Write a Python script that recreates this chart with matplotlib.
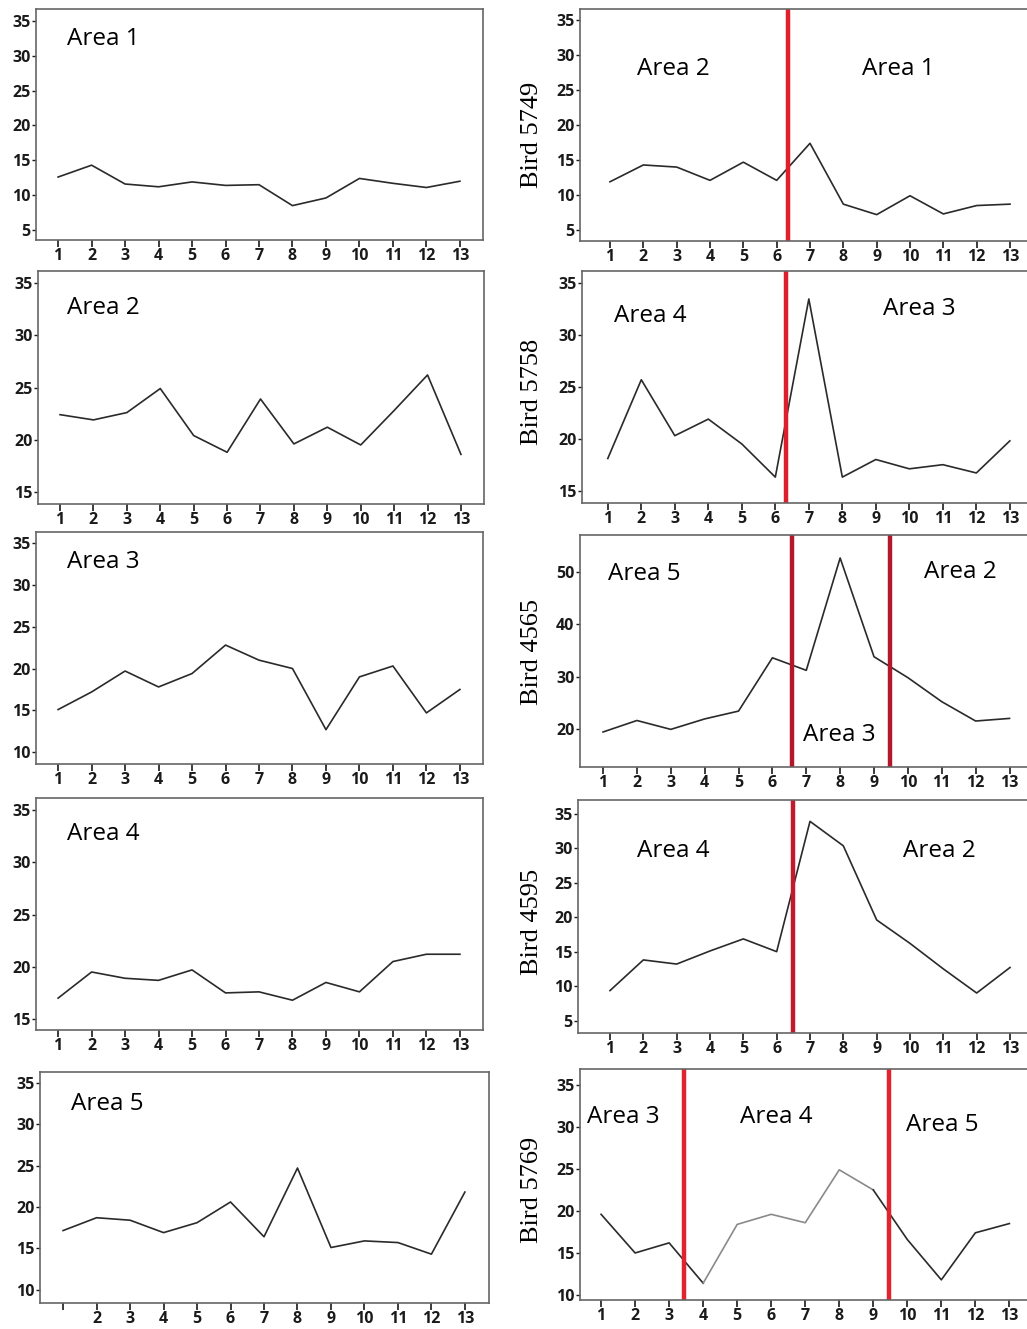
import numpy as np
import matplotlib
matplotlib.use("Agg")
import matplotlib.pyplot as plt

W, H = 1027, 1329

sessions = np.arange(1, 14)
x_labels = [str(s) for s in sessions]
x_labels_area5 = [""] + x_labels[1:]

# mean values per session, single-area birds
area1 = [12.6, 14.3, 11.6, 11.2, 11.9, 11.4, 11.5, 8.5, 9.6, 12.4, 11.7, 11.1, 12.0]
area2 = [22.4, 21.9, 22.6, 24.9, 20.4, 18.8, 23.9, 19.6, 21.2, 19.5, 22.8, 26.2, 18.6]
area3 = [15.1, 17.2, 19.7, 17.8, 19.4, 22.8, 21.0, 20.0, 12.7, 19.0, 20.3, 14.7, 17.5]
area4 = [17.0, 19.5, 18.9, 18.7, 19.7, 17.5, 17.6, 16.8, 18.5, 17.6, 20.5, 21.2, 21.2]
area5 = [17.15, 18.7, 18.4, 16.9, 18.1, 20.6, 16.4, 24.7, 15.1, 15.9, 15.7, 14.3, 21.8]

# birds that moved between areas
bird_5749 = [11.9, 14.3, 14.0, 12.1, 14.7, 12.1, 17.4, 8.7, 7.2, 9.9, 7.3, 8.5, 8.7]
bird_5758 = [18.1, 25.7, 20.3, 21.9, 19.5, 16.3, 33.5, 16.3, 18.0, 17.1, 17.5, 16.7, 19.8]
bird_4565 = [19.4, 21.6, 19.9, 21.9, 23.4, 33.6, 31.2, 52.7, 33.8, 29.8, 25.2, 21.5, 22.0]
bird_4595 = [9.35, 13.8, 13.2, 15.1, 16.85, 15.0, 33.9, 30.35, 19.6, 16.2, 12.5, 9.0, 12.7]
bird_5769 = [19.6, 15.0, 16.2, 11.4, 18.4, 19.6, 18.6, 24.9, 22.5, 16.6, 11.8, 17.4, 18.5]

# session where the bird switched area
moves_5749 = [6.35]
moves_5758 = [6.33]
moves_4565 = [6.57, 9.47]
moves_4595 = [6.48]
moves_5769 = [3.43, 9.47]

tick_font = dict(family="Open Sans", fontsize=11.5, fontweight="bold")
area_font = dict(family="Open Sans", fontsize=17.5)
bird_font = dict(family="Liberation Serif", fontsize=19)


def box(l, t, r, b):
    return [l / W, 1 - b / H, (r - l) / W, (b - t) / H]


def fx(x, y):
    return x / W, 1 - y / H


def panel(fig, rect, values, xlim, ylim, yticks, xlabels=x_labels):
    ax = fig.add_axes(rect)
    ax.plot(sessions, values, color="#2a2a2a", lw=1.2)
    ax.set_xlim(*xlim)
    ax.set_ylim(*ylim)
    ax.set_xticks(sessions)
    ax.set_xticklabels(xlabels, **tick_font)
    ax.set_yticks(yticks)
    ax.set_yticklabels([str(t) for t in yticks], **tick_font)
    ax.tick_params(axis="x", length=5, width=1.2, pad=1, colors="#1a1a1a")
    ax.tick_params(axis="y", length=3, width=1.0, pad=1, colors="#1a1a1a")
    for s in ax.spines.values():
        s.set_color("#666")
        s.set_linewidth(1.2)
    return ax


fig = plt.figure(figsize=(W / 100, H / 100), dpi=100)

# left column: one area per panel
panel(fig, box(36, 9, 483, 240), area1, (0.34, 13.69), (3.57, 36.7), [5, 10, 15, 20, 25, 30, 35])
panel(fig, box(38, 271, 484, 504), area2, (0.34, 13.69), (13.85, 36.15), [15, 20, 25, 30, 35])
panel(fig, box(36, 532, 483, 764), area3, (0.34, 13.69), (8.6, 36.3), [10, 15, 20, 25, 30, 35])
panel(fig, box(36, 798, 483, 1030), area4, (0.34, 13.69), (13.95, 36.15), [15, 20, 25, 30, 35])
panel(fig, box(40, 1072, 489, 1303), area5, (0.31, 13.72), (8.4, 36.3), [10, 15, 20, 25, 30, 35],
      xlabels=x_labels_area5)

for name, (x, y) in [("Area 1", (67, 45)), ("Area 2", (67, 314)), ("Area 3", (67, 568)),
                     ("Area 4", (67, 840)), ("Area 5", (71, 1110))]:
    fig.text(*fx(x, y), name, va="baseline", ha="left", **area_font)

# right column: birds, red lines mark the move between areas
right = [
    ("Bird 5749", bird_5749, moves_5749, box(580, 9, 1040, 241), (0.1, 13.9), (3.43, 36.6),
     [5, 10, 15, 20, 25, 30, 35], "#e01f2b"),
    ("Bird 5758", bird_5758, moves_5758, box(582, 271, 1040, 503), (0.23, 13.9), (13.8, 36.2),
     [15, 20, 25, 30, 35], "#dc1f2c"),
    ("Bird 4565", bird_4565, moves_4565, box(580, 535, 1040, 767), (0.32, 13.9), (12.7, 57.1),
     [20, 30, 40, 50], "#b3172c"),
    ("Bird 4595", bird_4595, moves_4595, box(578, 800, 1040, 1033), (0.04, 13.9), (3.2, 37.0),
     [5, 10, 15, 20, 25, 30, 35], "#c21a2d"),
    ("Bird 5769", bird_5769, moves_5769, box(580, 1069, 1040, 1300), (0.38, 13.9), (9.4, 36.9),
     [10, 15, 20, 25, 30, 35], "#e0232e"),
]

label_y = [135, 392, 652, 922, 1190]
for (name, vals, moves, rect, xlim, ylim, yt, red), ly in zip(right, label_y):
    ax = panel(fig, rect, vals, xlim, ylim, yt)
    if name == "Bird 5769":
        # middle stretch of this trace is printed lighter
        ax.lines[0].remove()
        ax.plot(sessions[:4], vals[:4], color="#2a2a2a", lw=1.2)
        ax.plot(sessions[3:9], vals[3:9], color="#8a8a8a", lw=1.2)
        ax.plot(sessions[8:], vals[8:], color="#2a2a2a", lw=1.2)
    for m in moves:
        ax.axvline(m, color=red, lw=3.2)
    fig.text(*fx(532, ly), name, rotation=90, va="center", ha="center", **bird_font)

area_tags = [
    ("Area 2", 637, 75), ("Area 1", 862, 75),
    ("Area 4", 614, 322), ("Area 3", 883, 315),
    ("Area 5", 608, 580), ("Area 2", 924, 578), ("Area 3", 803, 741),
    ("Area 4", 637, 857), ("Area 2", 903, 857),
    ("Area 3", 587, 1123), ("Area 4", 740, 1123), ("Area 5", 906, 1131),
]
for name, x, y in area_tags:
    fig.text(*fx(x, y), name, va="baseline", ha="left", **area_font)

fig.savefig("out.png", dpi=100)
